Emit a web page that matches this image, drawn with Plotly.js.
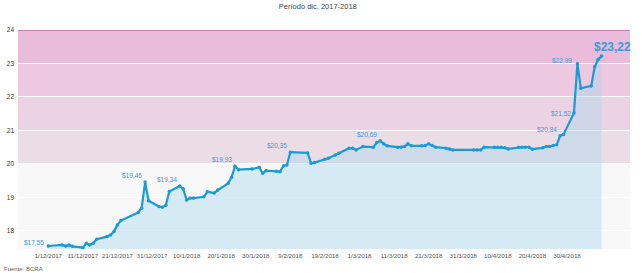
<!DOCTYPE html>
<html>
<head>
<meta charset="utf-8">
<script src="https://cdn.plot.ly/plotly-3.0.1.min.js"></script>
<style>html,body{margin:0;padding:0;background:#fff;}#chart{width:642px;height:273px;}</style>
</head>
<body>
<div id="chart"></div>
<script>
// ---- data ----
var dates = [
 '2017-12-01','2017-12-05','2017-12-06','2017-12-07','2017-12-08','2017-12-11','2017-12-12','2017-12-13','2017-12-14','2017-12-15',
 '2017-12-18','2017-12-19','2017-12-20','2017-12-21','2017-12-22','2017-12-27','2017-12-28','2017-12-29','2017-12-30',
 '2018-01-02','2018-01-03','2018-01-04','2018-01-05','2018-01-08','2018-01-09','2018-01-10','2018-01-11','2018-01-12',
 '2018-01-15','2018-01-16','2018-01-18','2018-01-19','2018-01-22','2018-01-23','2018-01-24','2018-01-25','2018-01-29','2018-01-31',
 '2018-02-01','2018-02-02','2018-02-05','2018-02-06','2018-02-07','2018-02-08','2018-02-09','2018-02-14','2018-02-15','2018-02-16',
 '2018-02-19','2018-02-20','2018-02-22','2018-02-23','2018-02-26','2018-02-27','2018-02-28',
 '2018-03-02','2018-03-05','2018-03-06','2018-03-07','2018-03-08','2018-03-09','2018-03-12','2018-03-13','2018-03-14','2018-03-15','2018-03-16',
 '2018-03-19','2018-03-20','2018-03-21','2018-03-22','2018-03-23','2018-03-26','2018-03-27','2018-03-28',
 '2018-04-03','2018-04-04','2018-04-05','2018-04-06','2018-04-09','2018-04-10','2018-04-11','2018-04-12','2018-04-13',
 '2018-04-16','2018-04-17','2018-04-18','2018-04-19','2018-04-20','2018-04-23','2018-04-24','2018-04-25','2018-04-26','2018-04-27',
 '2018-04-28','2018-04-29','2018-05-02','2018-05-03','2018-05-04','2018-05-07','2018-05-08','2018-05-09','2018-05-10'
];
var values = [
 17.55,17.58,17.55,17.58,17.54,17.50,17.63,17.58,17.63,17.75,
 17.83,17.88,17.98,18.18,18.31,18.55,18.68,19.46,18.90,
 18.73,18.71,18.77,19.18,19.34,19.26,18.92,18.98,18.98,
 19.02,19.17,19.13,19.22,19.42,19.60,19.93,19.83,19.85,19.90,
 19.72,19.80,19.78,19.77,19.94,19.97,20.35,20.33,20.02,20.04,
 20.14,20.17,20.27,20.32,20.47,20.47,20.42,
 20.52,20.50,20.64,20.69,20.60,20.54,20.50,20.50,20.52,20.60,20.54,
 20.54,20.55,20.60,20.55,20.50,20.47,20.45,20.42,
 20.42,20.42,20.42,20.50,20.50,20.50,20.50,20.48,20.45,
 20.50,20.50,20.50,20.50,20.44,20.48,20.52,20.52,20.55,20.57,
 20.84,20.88,21.52,22.99,22.26,22.33,22.90,23.12,23.22
];
var labelDates = ['2017-12-01','2017-12-29','2018-01-08','2018-01-24','2018-02-09','2018-03-07','2018-04-28','2018-05-02','2018-05-03','2018-05-10'];
var tickDates = ['2017-12-01','2017-12-11','2017-12-21','2017-12-31','2018-01-10','2018-01-20','2018-01-30','2018-02-09','2018-02-19','2018-03-01','2018-03-11','2018-03-21','2018-03-31','2018-04-10','2018-04-20','2018-04-30'];
var tickLabels = ['1/12/2017','11/12/2017','21/12/2017','31/12/2017','10/1/2018','20/1/2018','30/1/2018','9/2/2018','19/2/2018','1/3/2018','11/3/2018','21/3/2018','31/3/2018','10/4/2018','20/4/2018','30/4/2018'];
var yTicks = [18,19,20,21,22,23,24];
var bandEdges = [20,21,22,23,24];

// ---- styling ----
var bandColors = ['#ebdde6','#ecd3e4','#ecc9e0','#e9bcdc'];
var shapes = [];
for (var i = 0; i < bandEdges.length - 1; i++) {
  shapes.push({type:'rect', xref:'paper', yref:'y', x0:0, x1:1, y0:bandEdges[i], y1:bandEdges[i+1],
    fillcolor:bandColors[i], line:{width:0}, layer:'below'});
}
shapes.push({type:'line', xref:'paper', yref:'y', x0:0, x1:1, y0:24, y1:24, line:{color:'#c86aa8', width:1.5}, layer:'above'});

function fmt(v){ return '$' + v.toFixed(2).replace('.', ','); }

var annotations = [];
labelDates.forEach(function(d, k){
  var idx = dates.indexOf(d);
  var v = values[idx];
  var last = (k === labelDates.length - 1);
  var first = (k === 0);
  var a = {x:d, y:v, xref:'x', yref:'y', text:fmt(v), showarrow:false,
    font:{family:'Liberation Sans, Arial, sans-serif', size: last ? 12 : 6.5, color:'#3b9bd6'},
    xanchor: last ? 'center' : 'right', yanchor: 'bottom', xshift: last ? 11 : -1, yshift: 1};
  if (last) { a.text = '<b>' + fmt(v) + '</b>'; a.yshift = 0; }
  if (first) { a.yanchor = 'middle'; a.yshift = 3; a.xshift = -2; }
  if (d === '2018-05-02') { a.yanchor = 'middle'; a.yshift = 0; }
  if (d === '2018-05-03') { a.xshift = -3; a.yshift = -2; }
  annotations.push(a);
});
annotations.push({xref:'paper', yref:'paper', x:-0.026, y:-0.068, xanchor:'left', yanchor:'top', showarrow:false,
  text:'Fuente: BCRA', font:{family:'Liberation Sans, Arial, sans-serif', size:6, color:'#666'}});

var trace = {
  x: dates, y: values, type:'scatter', mode:'lines+markers',
  line:{color:'#1b9ad6', width:2.2},
  marker:{color:'#1b9ad6', size:3.5},
  fill:'tozeroy', fillcolor:'rgba(168,214,236,0.42)',
  hoverinfo:'x+y'
};

var layout = {
  width:642, height:273,
  margin:{l:18, r:12, t:30, b:24, pad:0},
  paper_bgcolor:'#ffffff', plot_bgcolor:'#f8f8f8',
  showlegend:false,
  title:{text:'Período dic. 2017-2018', x:0.495, xanchor:'center', y:0.978, yanchor:'middle',
    font:{family:'Liberation Sans, Arial, sans-serif', size:7.5, color:'#444'}},
  xaxis:{type:'date', range:['2017-11-22 06:00','2018-05-18 05:00'], tickvals:tickDates, ticktext:tickLabels,
    tickangle:0, showgrid:false, zeroline:false, showline:false, ticks:'', ticklabelstandoff:2,
    tickfont:{family:'Liberation Sans, Arial, sans-serif', size:6.2, color:'#555'}},
  yaxis:{range:[17.46,24], tickvals:yTicks, showgrid:true, gridcolor:'#ffffff', gridwidth:1,
    zeroline:false, showline:false, ticks:'', ticklabelstandoff:3,
    tickfont:{family:'Liberation Sans, Arial, sans-serif', size:6.5, color:'#333'}},
  shapes:shapes,
  annotations:annotations
};

Plotly.newPlot('chart', [trace], layout, {staticPlot:true, displayModeBar:false});
</script>
</body>
</html>
